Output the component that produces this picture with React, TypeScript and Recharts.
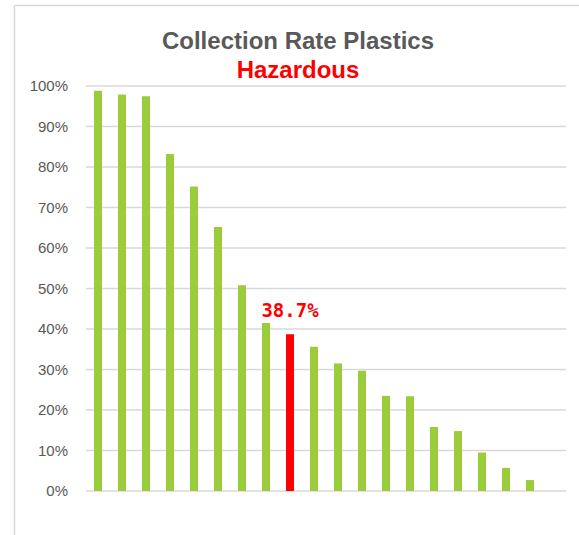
import React from 'react';
import { BarChart, Bar, XAxis, YAxis, CartesianGrid, Cell, LabelList } from 'recharts';

const categories = ['1', '2', '3', '4', '5', '6', '7', '8', '9', '10', '11', '12', '13', '14', '15', '16', '17', '18', '19', '20'];
const rates: (number | null)[] = [98.8, 97.9, 97.5, 83.2, 75.2, 65.2, 50.8, 41.5, 38.7, 35.6, 31.5, 29.7, 23.5, 23.4, 15.8, 14.8, 9.5, 5.7, 2.7, null];
const yTicks = [0, 10, 20, 30, 40, 50, 60, 70, 80, 90, 100];
const highlightIndex = 8;

const data = categories.map((name, i) => ({
    name,
    rate: rates[i],
    label: i === highlightIndex ? `${rates[i]}%` : null,
}));

const GREEN = '#9ACC3B';
const RED = '#FF0000';
const FONT = '"Liberation Sans", Arial, sans-serif';

// only the highlighted bar gets a value label
const HighlightLabel = (props: any) => {
    const { x, y, width, value } = props;
    if (!value) return null;
    return (
        <text x={Number(x) + Number(width) / 2} y={Number(y) - 17} textAnchor="middle" fill={RED} fontSize={19} fontWeight="bold" fontFamily='"DejaVu Sans Mono", monospace'>
            {value}
        </text>
    );
};

const App: React.FC = () => {
    return (
        <div style={{ position: 'absolute', left: 0, top: 0, width: 579, height: 535, background: '#fff' }}>
            <BarChart width={579} height={535} data={data} margin={{ top: 86, right: 13, left: 26, bottom: 44 }}>
                <CartesianGrid vertical={false} stroke="#d9d9d9" strokeWidth={1.5} />
                <XAxis dataKey="name" hide />
                <YAxis
                    width={60}
                    domain={[0, 100]}
                    ticks={yTicks}
                    interval={0}
                    axisLine={false}
                    tickLine={false}
                    tickSize={10}
                    tickMargin={8}
                    tickFormatter={(v: number) => `${v}%`}
                    tick={{ fill: '#595959', fontSize: 15, fontFamily: FONT }}
                />
                <Bar dataKey="rate" barSize={8} isAnimationActive={false}>
                    {data.map((d, i) => (
                        <Cell key={`cell-${i}`} fill={i === highlightIndex ? RED : GREEN} />
                    ))}
                    <LabelList dataKey="label" content={HighlightLabel} />
                </Bar>
            </BarChart>
            <svg width={579} height={535} style={{ position: 'absolute', left: 0, top: 0, pointerEvents: 'none' }}>
                <line x1={14.5} y1={5.5} x2={579} y2={5.5} stroke="#d9d9d9" strokeWidth={1.5} />
                <line x1={14.5} y1={5.5} x2={14.5} y2={535} stroke="#d9d9d9" strokeWidth={1.5} />
                <text x={298} y={49} textAnchor="middle" fill="#595959" fontSize={24} fontWeight="bold" fontFamily={FONT}>
                    Collection Rate Plastics
                </text>
                <text x={298} y={78} textAnchor="middle" fill={RED} fontSize={24} fontWeight="bold" fontFamily={FONT}>
                    Hazardous
                </text>
            </svg>
        </div>
    );
};

export default App;
